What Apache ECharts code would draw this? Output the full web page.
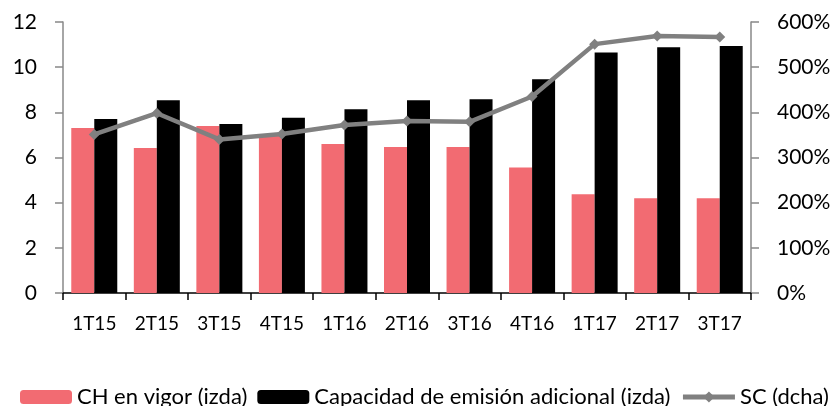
<!DOCTYPE html>
<html><head><meta charset="utf-8">
<script src="https://cdn.jsdelivr.net/npm/echarts@6/dist/echarts.min.js"></script>
<style>html,body{margin:0;padding:0;background:#fff}#c{width:837px;height:406px}</style>
</head><body><div id="c"></div>
<script>
const categories = ['1T15','2T15','3T15','4T15','1T16','2T16','3T16','4T16','1T17','2T17','3T17'];
const chValues = [7.31, 6.42, 7.40, 6.98, 6.60, 6.46, 6.46, 5.56, 4.37, 4.20, 4.20];
const capValues = [7.70, 8.54, 7.48, 7.76, 8.14, 8.53, 8.58, 9.47, 10.65, 10.88, 10.94];
const scValues = [351, 398, 340, 352, 372, 381, 379, 435, 551, 569, 567];
const FONT = 'Lato, "Open Sans", sans-serif';
const chart = echarts.init(document.getElementById('c'));
chart.setOption({
  animation: false,
  textStyle: {fontFamily: FONT},
  grid: {left: 63, right: 86, top: 22, bottom: 113},
  legend: {
    left: 15, top: 381, itemWidth: 52, itemHeight: 14, itemGap: 10,
    textStyle: {fontSize: 22, color: '#000', fontFamily: FONT},
    data: ['CH en vigor (izda)', 'Capacidad de emisión adicional (izda)',
      {name: 'SC (dcha)', lineStyle: {width: 5, color: '#808080'}, itemStyle: {color: '#808080'}}]
  },
  xAxis: {
    type: 'category', data: categories,
    axisLine: {lineStyle: {color: '#000', width: 1.5}},
    axisTick: {show: true, length: 7, lineStyle: {color: '#000', width: 1.5}},
    axisLabel: {fontSize: 19, color: '#000', margin: 21, fontFamily: FONT}
  },
  yAxis: [{
    type: 'value', min: 0, max: 12, interval: 2,
    axisLine: {show: true, lineStyle: {color: '#888', width: 1.5}},
    axisTick: {show: true, length: 8, lineStyle: {color: '#888', width: 1.5}},
    axisLabel: {fontSize: 21, color: '#000', margin: 26, fontFamily: FONT},
    splitLine: {show: false}
  }, {
    type: 'value', min: 0, max: 600, interval: 100,
    axisLine: {show: true, lineStyle: {color: '#888', width: 1.5}},
    axisTick: {show: true, length: 8, lineStyle: {color: '#888', width: 1.5}},
    axisLabel: {fontSize: 21, color: '#000', margin: 26, formatter: '{value}%', fontFamily: FONT},
    splitLine: {show: false}
  }],
  series: [{
    name: 'CH en vigor (izda)', type: 'bar', data: chValues,
    barWidth: 23, barGap: '0%', itemStyle: {color: '#F26B72'}
  }, {
    name: 'Capacidad de emisión adicional (izda)', type: 'bar', data: capValues,
    barWidth: 23, barGap: '0%', itemStyle: {color: '#000'}
  }, {
    name: 'SC (dcha)', type: 'line', yAxisIndex: 1, data: scValues,
    symbol: 'diamond', symbolSize: 11,
    lineStyle: {color: '#808080', width: 4.5},
    itemStyle: {color: '#808080'}
  }]
});
</script></body></html>
